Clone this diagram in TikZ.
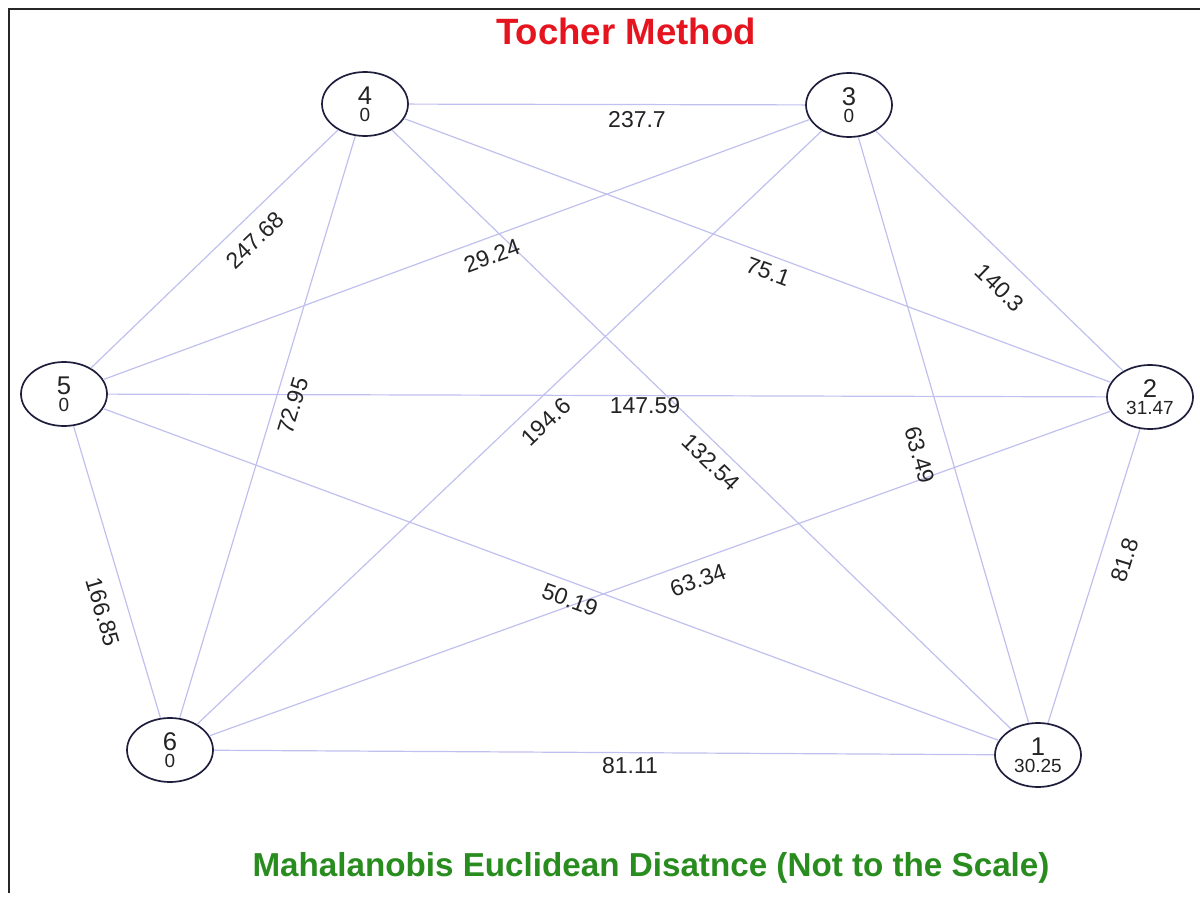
\documentclass[tikz,border=0pt]{standalone}
\usepackage{fontspec}
\setmainfont{Liberation Sans}
\usetikzlibrary{shapes.geometric}
\definecolor{edgecol}{RGB}{192,192,238}
\definecolor{vertcol}{RGB}{30,30,60}
\definecolor{labcol}{RGB}{35,35,35}
\definecolor{titlered}{RGB}{230,20,30}
\definecolor{subgreen}{RGB}{40,140,30}
\newcommand{\vnum}[1]{{\fontsize{12.8}{8.5}\selectfont #1}}
\tikzset{
  vert/.style={draw=vertcol, line width=0.85pt, ellipse, minimum width=43pt, minimum height=32pt,
    inner sep=0pt, align=center, text=labcol, font=\fontsize{9.5}{8.5}\selectfont},
  link/.style={draw=edgecol, line width=0.6pt},
  elab/.style={text=labcol, font=\fontsize{11.5}{12}\selectfont, inner sep=0pt},
  frameline/.style={draw=black!85, line width=1pt}
}
\begin{document}
\begin{tikzpicture}[x=0.5pt,y=-0.5pt]
\useasboundingbox (0,0) rectangle (1200,899);
\draw[frameline] (9,893) -- (9,9) -- (1200,9);
% vertices
\node[vert] (n1) at (1038,755) {\vnum{1}\\30.25};
\node[vert] (n2) at (1150,397) {\vnum{2}\\31.47};
\node[vert] (n3) at (849,105) {\vnum{3}\\0};
\node[vert] (n4) at (365,104) {\vnum{4}\\0};
\node[vert] (n5) at (64,394) {\vnum{5}\\0};
\node[vert] (n6) at (170,750) {\vnum{6}\\0};
% edges
\draw[link] (n4) -- (n3);
\draw[link] (n4) -- (n5);
\draw[link] (n4) -- (n6);
\draw[link] (n4) -- (n1);
\draw[link] (n4) -- (n2);
\draw[link] (n3) -- (n5);
\draw[link] (n3) -- (n6);
\draw[link] (n3) -- (n2);
\draw[link] (n3) -- (n1);
\draw[link] (n5) -- (n2);
\draw[link] (n5) -- (n6);
\draw[link] (n5) -- (n1);
\draw[link] (n6) -- (n1);
\draw[link] (n6) -- (n2);
\draw[link] (n2) -- (n1);
% edge labels
\node[elab] (l43) at (637,120) {237.7};
\node[elab, rotate=43.9] (l45) at (255,240) {247.68};
\node[elab, rotate=20.2] (l35) at (492,256) {29.24};
\node[elab, rotate=-20.5] (l42) at (768,272) {75.1};
\node[elab, rotate=-44.1] (l32) at (1000,288) {140.3};
\node[elab, rotate=73.2] (l46) at (293,406) {72.95};
\node[elab] (l52) at (645,406) {147.59};
\node[elab, rotate=43.5] (l36) at (546,422) {194.6};
\node[elab, rotate=-44.0] (l41) at (711,462) {132.54};
\node[elab, rotate=-73.8] (l31) at (920,455) {63.49};
\node[elab, rotate=72.6] (l21) at (1125,560) {81.8};
\node[elab, rotate=-73.4] (l56) at (103,612) {166.85};
\node[elab, rotate=-20.3] (l51) at (570,600) {50.19};
\node[elab, rotate=19.8] (l62) at (698,580) {63.34};
\node[elab] (l61) at (630,766) {81.11};
% titles
\node[anchor=base, text=titlered, font=\bfseries\fontsize{18.3}{20}\selectfont] (title) at (626,45) {Tocher Method};
\node[anchor=base, text=subgreen, font=\bfseries\fontsize{16.6}{18}\selectfont] (subtitle) at (651,876) {Mahalanobis Euclidean Disatnce (Not to the Scale)};
\end{tikzpicture}
\end{document}
